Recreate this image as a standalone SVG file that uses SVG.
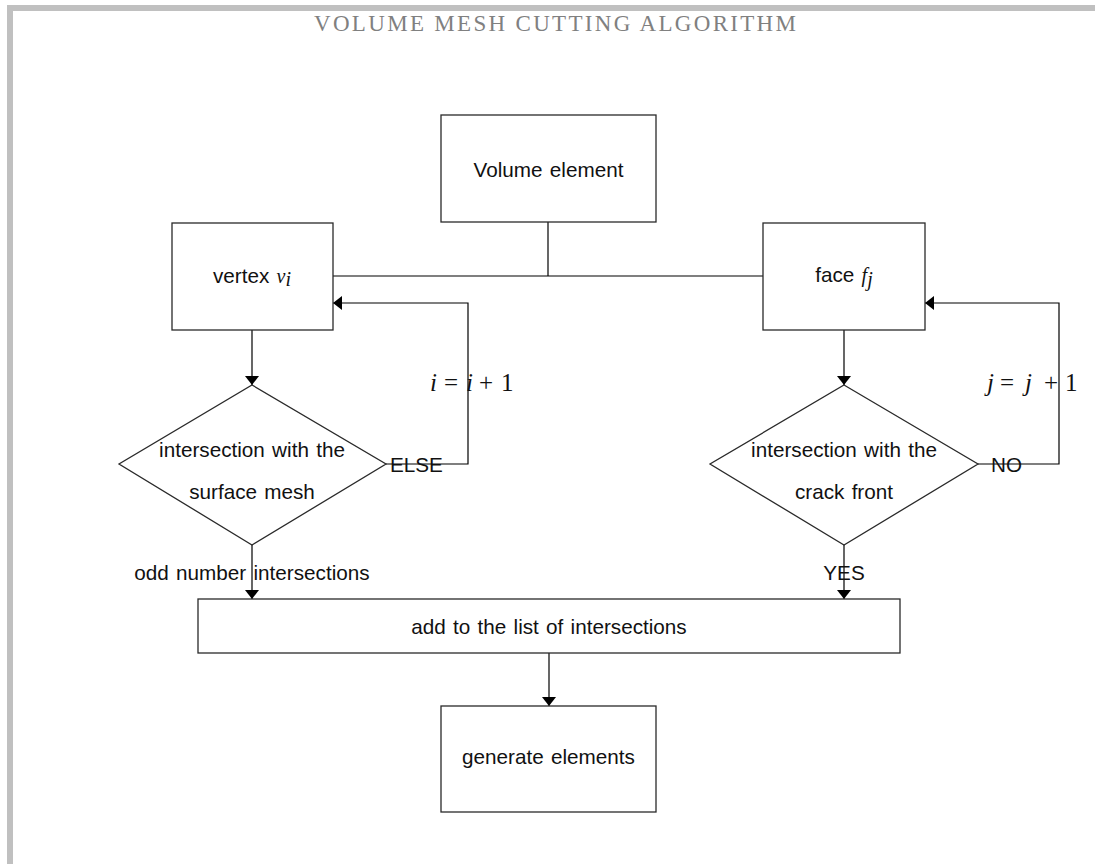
<svg xmlns="http://www.w3.org/2000/svg" width="1095" height="864" viewBox="0 0 1095 864">
<style>
.box{fill:#fff;stroke:#2a2a2a;stroke-width:1.3}
.con{fill:none;stroke:#000;stroke-width:1.2}
.t{font-family:"Liberation Sans",Arial,sans-serif;font-size:20.7px;word-spacing:1.5px;fill:#111}
.m{font-family:"Liberation Serif","Times New Roman",serif;font-size:20px;fill:#111}
.ml{font-family:"Liberation Serif","Times New Roman",serif;font-size:25px;fill:#111}
.mi{font-style:italic}
.title{font-family:"Liberation Serif","Times New Roman",serif;font-size:23px;fill:#808080}
</style>
<defs>
<marker id="arr" viewBox="0 0 9 14" refX="9" refY="7" markerWidth="9" markerHeight="14" orient="auto" markerUnits="userSpaceOnUse">
<path d="M0,0 L9,7 L0,14 z" fill="#000"/>
</marker>
</defs>
<rect x="0" y="0" width="1095" height="864" fill="#fff"/>
<rect x="10" y="8" width="1200" height="1000" fill="none" stroke="#c0c0c0" stroke-width="6"/>
<text class="title" x="555" y="31" text-anchor="middle" textLength="482" lengthAdjust="spacing">VOLUME MESH CUTTING ALGORITHM</text>

<g id="connectors">
<path class="con" d="M548,222 V276"/>
<path class="con" d="M333,276 H763"/>
<path class="con" d="M252,330 V385" marker-end="url(#arr)"/>
<path class="con" d="M844,330 V385" marker-end="url(#arr)"/>
<path class="con" d="M386,464 H468 V303 H333" marker-end="url(#arr)"/>
<path class="con" d="M978,464 H1059 V303 H925" marker-end="url(#arr)"/>
<path class="con" d="M252,545 V599" marker-end="url(#arr)"/>
<path class="con" d="M844,545 V599" marker-end="url(#arr)"/>
<path class="con" d="M549,653 V706" marker-end="url(#arr)"/>
<text class="ml" y="391"><tspan class="mi" x="430">i</tspan><tspan x="444">=</tspan><tspan class="mi" x="466">i</tspan><tspan x="479">+</tspan><tspan x="501">1</tspan></text>
<text class="ml" y="391"><tspan class="mi" x="987">j</tspan><tspan x="1000">=</tspan><tspan class="mi" x="1025">j</tspan><tspan x="1044">+</tspan><tspan x="1065">1</tspan></text>
<text class="t" x="390" y="472">ELSE</text>
<text class="t" x="991" y="472">NO</text>
<text class="t" x="252" y="580" text-anchor="middle">odd number intersections</text>
<text class="t" x="844" y="580" text-anchor="middle">YES</text>
</g>

<g id="volume">
<rect class="box" x="441" y="115" width="215" height="107"/>
<text class="t" x="548.5" y="177" text-anchor="middle">Volume element</text>
</g>
<g id="vertex">
<rect class="box" x="172" y="223" width="161" height="107"/>
<text class="t" x="252" y="283" text-anchor="middle">vertex <tspan class="m mi" font-size="22">v</tspan><tspan class="m mi" font-size="15" dy="3">i</tspan></text>
</g>
<g id="face">
<rect class="box" x="763" y="223" width="162" height="107"/>
<text class="t" x="844" y="282" text-anchor="middle">face <tspan class="m mi" font-size="22">f</tspan><tspan class="m mi" font-size="15" dy="4">j</tspan></text>
</g>
<g id="decision-vertex">
<polygon class="box" points="252,385 386,464 252,545 119,464"/>
<text class="t" x="252" y="457" text-anchor="middle">intersection with the</text>
<text class="t" x="252" y="499" text-anchor="middle">surface mesh</text>
</g>
<g id="decision-face">
<polygon class="box" points="844,385 978,464 844,545 710,464"/>
<text class="t" x="844" y="457" text-anchor="middle">intersection with the</text>
<text class="t" x="844" y="499" text-anchor="middle">crack front</text>
</g>
<g id="add-list">
<rect class="box" x="198" y="599" width="702" height="54"/>
<text class="t" x="549" y="634" text-anchor="middle">add to the list of intersections</text>
</g>
<g id="generate">
<rect class="box" x="441" y="706" width="215" height="106"/>
<text class="t" x="548.5" y="764" text-anchor="middle">generate elements</text>
</g>
</svg>
